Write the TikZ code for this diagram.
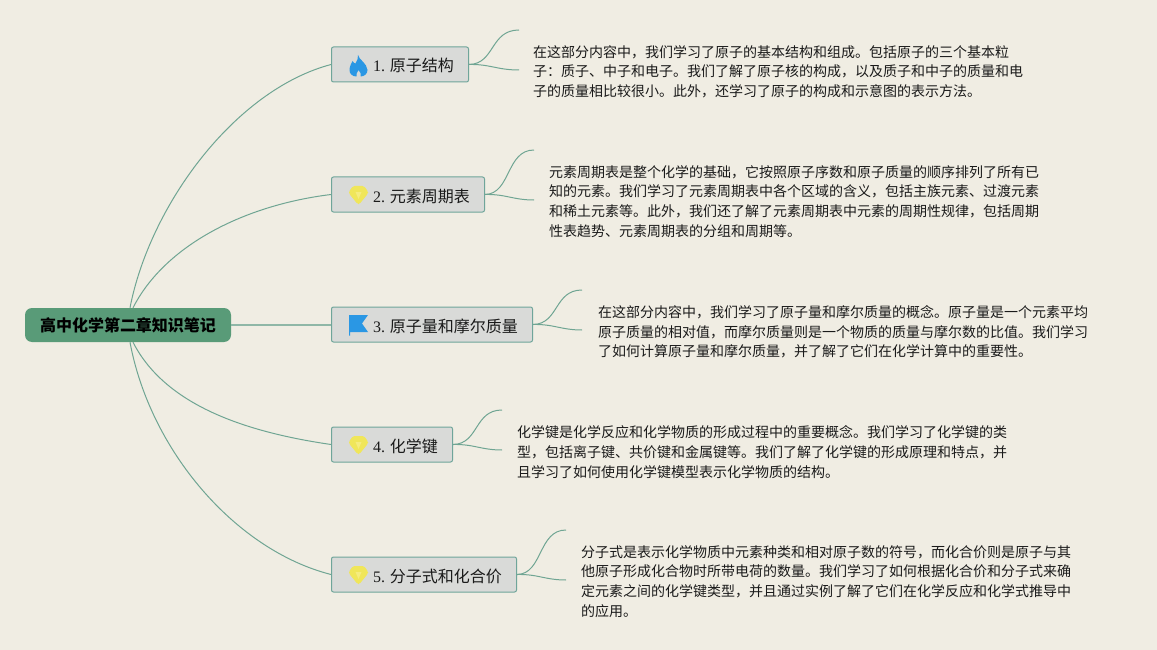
\documentclass[tikz,border=0pt]{standalone}
\usepackage{fontspec}
\setmainfont{Noto Sans CJK SC}
\newfontfamily\latf{Liberation Serif}
\definecolor{bgc}{HTML}{F0EDE3}
\definecolor{linec}{HTML}{6FA593}
\definecolor{rootc}{HTML}{599B78}
\definecolor{boxc}{HTML}{D9DAD8}
\definecolor{boxb}{HTML}{6FA59A}
\definecolor{txt}{HTML}{1A1A1A}
\definecolor{blueic}{HTML}{2A97E4}
\definecolor{yelic}{HTML}{F0E65A}
\definecolor{yellt}{HTML}{F5EC80}
\tikzset{
  rootbox/.style={draw=none,fill=rootc,rounded corners=7pt,minimum width=206pt,minimum height=34pt,inner sep=0pt,font=\fontsize{16}{20}\selectfont\bfseries,text=black},
  subbox/.style={draw=boxb,line width=1pt,fill=boxc,rounded corners=2pt,minimum height=35pt,inner ysep=0pt,inner xsep=0pt,anchor=west,font=\fontsize{16}{20}\selectfont,text=txt},
  para/.style={anchor=north west,inner sep=0pt,align=left,font=\fontsize{14}{19.9}\selectfont,text=txt},
  conn/.style={draw=linec,line width=1pt},
}
\newcommand{\gemicon}[2]{%
  \begin{scope}[shift={(#1,#2)}]
    \fill[yelic,rounded corners=1.5pt] (-5.5,-9) -- (5.5,-9) -- (9.5,-3.5) -- (9.5,-1.5) -- (1,9) -- (-1,9) -- (-9.5,-1.5) -- (-9.5,-3.5) -- cycle;
    \fill[yellt] (-3,-3) -- (3,-3) -- (0,4) -- cycle;
  \end{scope}}
\newcommand{\lnum}[2]{\hspace*{27pt}\raisebox{0pt}[15pt][0pt]{{\latf #1} #2}}
\begin{document}
\begin{tikzpicture}[x=1pt,y=-1pt]
\useasboundingbox[fill=bgc] (0,0) rectangle (1157,650);
\node[rootbox] (root) at (128,325) {高中化学第二章知识笔记};
\node[subbox,minimum width=137pt] (b1) at (331,64.5) {\lnum{1.}{原子结构}};
\node[subbox,minimum width=153pt] (b2) at (331,194.5) {\lnum{2.}{元素周期表}};
\node[subbox,minimum width=201pt] (b3) at (331,324.5) {\lnum{3.}{原子量和摩尔质量}};
\node[subbox,minimum width=121pt] (b4) at (331,444.5) {\lnum{4.}{化学键}};
\node[subbox,minimum width=185pt] (b5) at (331,574.5) {\lnum{5.}{分子式和化合价}};

% icons
\fill[blueic] (358,55) .. controls (359,60) and (367,63) .. (367.5,70) .. controls (367.5,74) and (364,76.5) .. (360.5,76.5)
  .. controls (361.5,74.5) and (360.5,72) .. (358.5,70) .. controls (357.5,72) and (355.5,74.5) .. (356.5,76.5)
  .. controls (352.5,76.5) and (349.5,74) .. (349.5,70) .. controls (349.5,66) and (351.5,63.5) .. (352.5,61) .. controls (353.5,62.5) and (354.5,63.5) .. (355.5,63.5) .. controls (357.5,61) and (358,58) .. (358,55) -- cycle;
\gemicon{358.5}{195}
\fill[blueic] (349,315) -- (368,315) -- (362,323.5) -- (368,332) -- (350,332) -- (350,335.5) -- (349,335.5) -- cycle;
\gemicon{358.5}{445}
\gemicon{358.5}{575}

% paragraphs
\node[para] (t1) at (533,45) {在这部分内容中，我们学习了原子的基本结构和组成。包括原子的三个基本粒\\子：质子、中子和电子。我们了解了原子核的构成，以及质子和中子的质量和电\\子的质量相比较很小。此外，还学习了原子的构成和示意图的表示方法。};
\node[para] (t2) at (549,165) {元素周期表是整个化学的基础，它按照原子序数和原子质量的顺序排列了所有已\\知的元素。我们学习了元素周期表中各个区域的含义，包括主族元素、过渡元素\\和稀土元素等。此外，我们还了解了元素周期表中元素的周期性规律，包括周期\\性表趋势、元素周期表的分组和周期等。};
\node[para] (t3) at (598,305) {在这部分内容中，我们学习了原子量和摩尔质量的概念。原子量是一个元素平均\\原子质量的相对值，而摩尔质量则是一个物质的质量与摩尔数的比值。我们学习\\了如何计算原子量和摩尔质量，并了解了它们在化学计算中的重要性。};
\node[para] (t4) at (517,425) {化学键是化学反应和化学物质的形成过程中的重要概念。我们学习了化学键的类\\型，包括离子键、共价键和金属键等。我们了解了化学键的形成原理和特点，并\\且学习了如何使用化学键模型表示化学物质的结构。};
\node[para] (t5) at (581,545) {分子式是表示化学物质中元素种类和相对原子数的符号，而化合价则是原子与其\\他原子形成化合物时所带电荷的数量。我们学习了如何根据化合价和分子式来确\\定元素之间的化学键类型，并且通过实例了解了它们在化学反应和化学式推导中\\的应用。};

% free ends
\coordinate (e1a) at (519,30); \coordinate (e1b) at (519,70);
\coordinate (e2a) at (534,150); \coordinate (e2b) at (534,200);
\coordinate (e3a) at (582,290); \coordinate (e3b) at (582,330);
\coordinate (e4a) at (502,410); \coordinate (e4b) at (502,450);
\coordinate (e5a) at (566,530); \coordinate (e5b) at (566,580);

% main branches
\draw[conn] ([xshift=2pt]root.north) .. controls (150,205) and (235,90) .. (b1.west);
\draw[conn] ([xshift=5pt]root.north) .. controls (165,245) and (245,205) .. (b2.west);
\draw[conn,line width=1.4pt,draw=linec!75!bgc] (root.east) -- (root.east -| b3.west);
\draw[conn] ([xshift=5pt]root.south) .. controls (165,405) and (245,432) .. (b4.west);
\draw[conn] ([xshift=2pt]root.south) .. controls (150,450) and (235,550) .. (b5.west);

% leaf branches
\draw[conn] (b1.east) .. controls (495,64) and (490,30) .. (e1a);
\draw[conn] (b1.east) .. controls (490,64) and (497,70) .. (e1b);
\draw[conn] (b2.east) .. controls (511,194) and (506,150) .. (e2a);
\draw[conn] (b2.east) .. controls (506,194) and (513,200) .. (e2b);
\draw[conn] (b3.east) .. controls (559,324) and (554,290) .. (e3a);
\draw[conn] (b3.east) .. controls (554,324) and (561,330) .. (e3b);
\draw[conn] (b4.east) .. controls (479,444) and (474,410) .. (e4a);
\draw[conn] (b4.east) .. controls (474,444) and (481,450) .. (e4b);
\draw[conn] (b5.east) .. controls (543,574) and (538,530) .. (e5a);
\draw[conn] (b5.east) .. controls (538,574) and (545,580) .. (e5b);
\end{tikzpicture}
\end{document}
